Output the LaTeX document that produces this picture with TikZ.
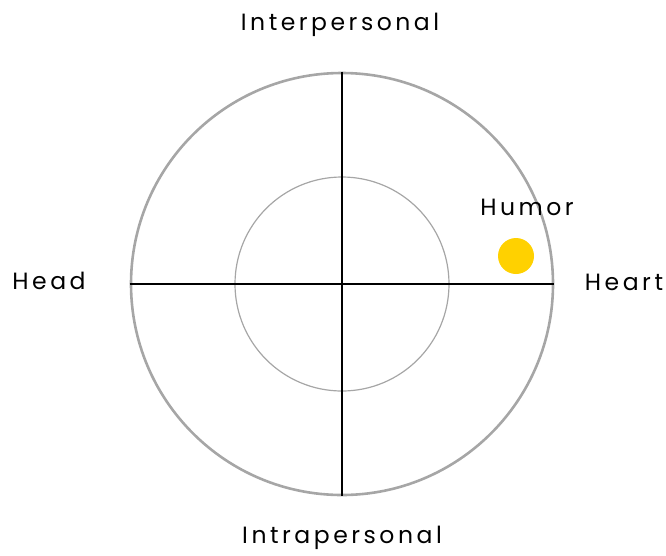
\documentclass[tikz,border=0pt]{standalone}
\usepackage{fontspec}
\setmainfont{Poppins}[LetterSpace=15]
\usetikzlibrary{positioning}
\definecolor{ringgray}{HTML}{A6A6A6}
\definecolor{dotyellow}{HTML}{FFD100}
\begin{document}
\begin{tikzpicture}[x=1pt,y=-1pt, ring/.style={draw=ringgray,circle,inner sep=0pt}, lbl/.style={font=\fontsize{23.5}{27}\selectfont,inner sep=0pt}, axis/.style={draw=black,line width=1.6pt}]
\useasboundingbox (0,0) rectangle (666,555);
\node[ring,line width=2.6pt,minimum size=422pt] (outer) at (342,284) {};
\node[ring,line width=1.2pt,minimum size=214pt] (inner) at (342,284) {};
\draw[axis] (outer.west)--(outer.east);\draw[axis] (outer.north)--(outer.south);
\node[circle,fill=dotyellow,inner sep=0pt,minimum size=36pt] (humordot) at (516,256) {};
\node[lbl] (inter) at (340,25) {Interpersonal};\node[lbl] (intra) at (342,538) {Intrapersonal};
\node[lbl] (head) at (49,281) {Head};\node[lbl] (heart) at (624,282) {Heart};
\node[lbl] (humor) at (527,207) {Humor};
\end{tikzpicture}
\end{document}
